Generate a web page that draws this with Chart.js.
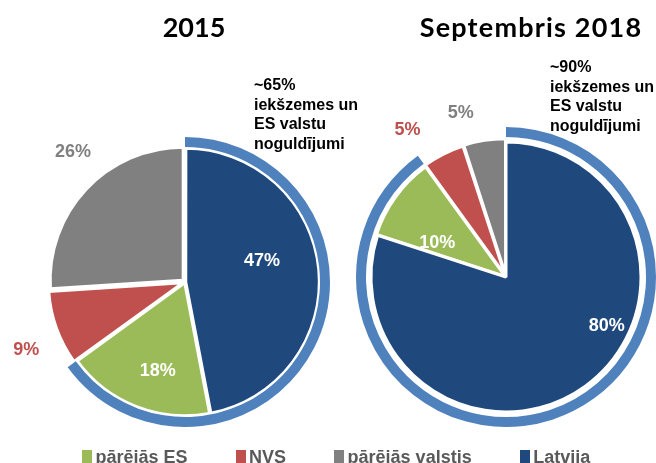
<!DOCTYPE html>
<html lang="lv">
<head>
<meta charset="utf-8">
<script src="https://cdn.jsdelivr.net/npm/chart.js@4.4.1/dist/chart.umd.min.js"></script>
<style>
  body { margin: 0; background: #fff; width: 656px; height: 463px; overflow: hidden; position: relative; font-family: "Liberation Sans", Arial, sans-serif; }
  canvas { position: absolute; top: 0; }
  #torta2015 { left: 0; }
  #torta2018 { left: 330px; }
  .virsraksts { position: absolute; top: 13px; width: 300px; margin-left: -150px; font-family: Lato, sans-serif; font-weight: bold; font-size: 27px; line-height: 27px; text-align: center; color: #000; white-space: nowrap; }
  .piezime { position: absolute; font-weight: bold; font-size: 16px; line-height: 19.5px; color: #000; white-space: nowrap; }
  #legenda { position: absolute; left: 82px; top: 448px; display: flex; gap: 48px; font-weight: bold; font-size: 18px; line-height: 18px; color: #595959; white-space: nowrap; }
  #legenda .vienums { display: flex; align-items: flex-start; }
  #legenda .kvadrats { width: 10px; height: 13px; margin: 2px 3.5px 0 0; }
</style>
</head>
<body>
<canvas id="torta2015" width="330" height="463"></canvas>
<canvas id="torta2018" width="326" height="463"></canvas>

<div class="virsraksts" style="left:194px">2015</div>
<div class="virsraksts" style="left:531px; letter-spacing:1.2px">Septembris 2018</div>

<div class="piezime" style="left:254px; top:75px">~65%<br>iekšzemes un<br>ES valstu<br>noguldījumi</div>
<div class="piezime" style="left:550px; top:57px">~90%<br>iekšzemes un<br>ES valstu<br>noguldījumi</div>

<div id="legenda"></div>

<script>
const kategorijas = ['pārējās ES', 'NVS', 'pārējās valstis', 'Latvija'];
const krasas = ['#9BBB59', '#C0504D', '#808080', '#1F497D'];
const dati2015 = [18, 9, 26, 47];
const dati2018 = [10, 5, 5, 80];
const gredzens2015 = [65, 35];
const gredzens2018 = [90, 10];
const gredzenaKrasa = '#4F81BD';

// f = attaluma koeficients no centra, da = leņķa nobīde grādos
const uzraksti2015 = [
  { f: 0.70, da: -4.6, krasa: '#FFFFFF' },
  { f: 1.30, da: -3.5, krasa: '#C0504D' },
  { f: 1.29, da: 6, krasa: '#808080' },
  { f: 0.60, da: -10, krasa: '#FFFFFF' }
];
const uzraksti2018 = [
  { f: 0.57, da: -9.4, krasa: '#FFFFFF' },
  { f: 1.31, da: -6.8, krasa: '#C0504D' },
  { f: 1.26, da: -6.4, krasa: '#808080' },
  { f: 0.83, da: -28, krasa: '#FFFFFF' }
];

const uzrakstuSpraudnis = {
  id: 'uzraksti',
  afterDatasetsDraw(chart, args, opts) {
    const meta = chart.getDatasetMeta(2);
    const ctx = chart.ctx;
    ctx.save();
    ctx.font = 'bold 18px "Liberation Sans", Arial, sans-serif';
    ctx.textAlign = 'center';
    ctx.textBaseline = 'middle';
    meta.data.forEach((arc, i) => {
      const st = opts.stils[i];
      const p = arc.getProps(['x', 'y', 'startAngle', 'endAngle', 'outerRadius'], true);
      const a = (p.startAngle + p.endAngle) / 2 + st.da * Math.PI / 180;
      const r = p.outerRadius * st.f;
      ctx.fillStyle = st.krasa;
      ctx.fillText(chart.data.datasets[2].data[i] + '%', p.x + Math.cos(a) * r, p.y + Math.sin(a) * r);
    });
    ctx.restore();
  }
};

function zimetTortu(id, dati, gredzens, nobides, uzraksti, atstarpe, radiuss, svari) {
  new Chart(document.getElementById(id), {
    type: 'pie',
    data: {
      labels: kategorijas,
      datasets: [
        {
          data: gredzens,
          backgroundColor: [gredzenaKrasa, 'rgba(0,0,0,0)'],
          borderWidth: 0,
          rotation: 0,
          weight: svari[0]
        },
        {
          data: [1],
          backgroundColor: 'rgba(0,0,0,0)',
          borderWidth: 0,
          weight: svari[1]
        },
        {
          data: dati,
          backgroundColor: krasas,
          borderColor: '#FFFFFF',
          borderWidth: 3,
          offset: nobides,
          // Latvija sākas pulksten 12
          rotation: dati[3] * 3.6,
          weight: svari[2]
        }
      ]
    },
    options: {
      responsive: false,
      animation: false,
      events: [],
      radius: radiuss,
      layout: { padding: atstarpe },
      plugins: {
        legend: { display: false },
        tooltip: { enabled: false },
        uzraksti: { stils: uzraksti }
      }
    },
    plugins: [uzrakstuSpraudnis]
  });
}

document.addEventListener('DOMContentLoaded', () => {
  zimetTortu('torta2015', dati2015, gredzens2015, [3, 10, 10, 3], uzraksti2015,
    { left: 40, top: 101, right: 0, bottom: 0 }, 145, [10, 2, 133]);
  zimetTortu('torta2018', dati2018, gredzens2018, [4, 7, 8, 0], uzraksti2018,
    { left: 26, top: 91, right: 0, bottom: 0 }, 150, [10, 5, 135]);

  const legenda = document.getElementById('legenda');
  kategorijas.forEach((nosaukums, i) => {
    legenda.innerHTML += `<div class="vienums"><span class="kvadrats" style="background:${krasas[i]}"></span>${nosaukums}</div>`;
  });
});
</script>
</body>
</html>
